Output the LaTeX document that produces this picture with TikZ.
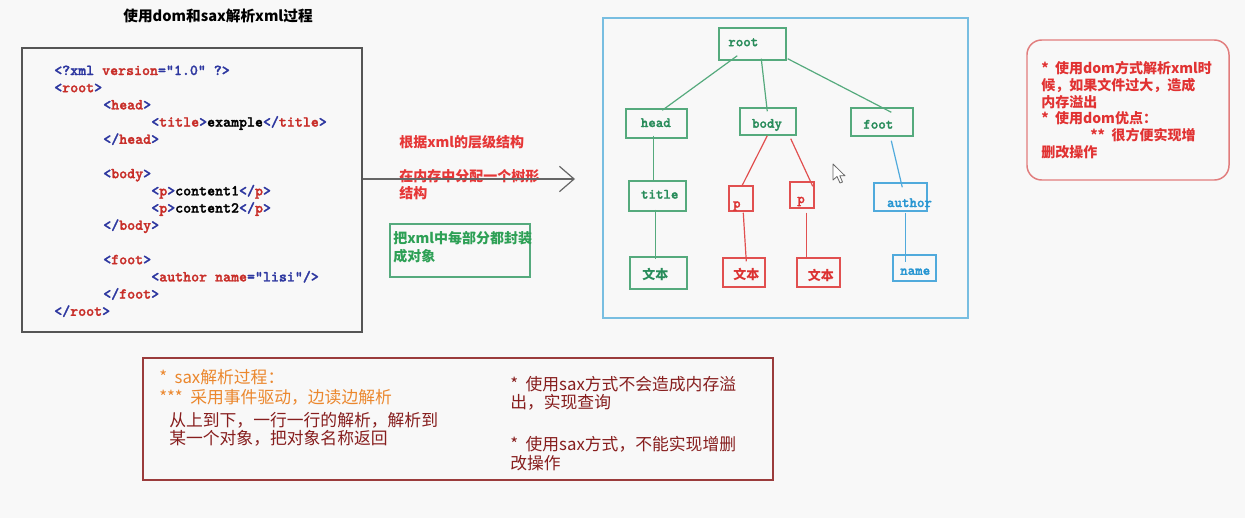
\documentclass[tikz,border=0pt]{standalone}
\usepackage{fontspec}
\usetikzlibrary{fit,calc,arrows.meta}
\newfontfamily\cjk{Noto Sans CJK SC}
\newfontfamily\codefont[FakeBold=1.6]{lmmonolt10-bold.otf}
\definecolor{bg}{RGB}{248,248,248}
\definecolor{xblue}{RGB}{45,55,160}
\definecolor{xred}{RGB}{200,45,40}
\definecolor{xmlgray}{RGB}{85,85,85}
\definecolor{tgreen}{RGB}{85,170,125}
\definecolor{tgreentxt}{RGB}{40,140,90}
\definecolor{tred}{RGB}{225,80,80}
\definecolor{tredtxt}{RGB}{220,50,50}
\definecolor{tblue}{RGB}{80,170,220}
\definecolor{tbluetxt}{RGB}{40,150,210}
\definecolor{bigblue}{RGB}{120,190,225}
\definecolor{midred}{RGB}{230,55,55}
\definecolor{midgreen}{RGB}{45,160,85}
\definecolor{pinkbox}{RGB}{225,125,125}
\definecolor{boxred}{RGB}{225,50,50}
\definecolor{brown}{RGB}{155,60,60}
\definecolor{orange}{RGB}{235,135,45}
\definecolor{darkred}{RGB}{135,30,30}
\newcommand\xb[1]{\textcolor{xblue}{#1}}
\newcommand\xr[1]{\textcolor{xred}{#1}}
\begin{document}
\begin{tikzpicture}[x=0.75pt,y=-0.75pt,
  code/.style={anchor=base west, inner sep=0, font=\codefont\fontsize{11.4}{13}\selectfont},
  tlab/.style={inner sep=0, font=\codefont\fontsize{10.7}{12}\selectfont},
  tcjk/.style={inner sep=0, font=\cjk\bfseries\fontsize{9.75}{11}\selectfont},
  tbox/.style={draw, line width=1.1pt, inner sep=0},
  tline/.style={line width=0.9pt},
  midtxt/.style={anchor=west, inner sep=0, font=\cjk\bfseries\fontsize{10.5}{12}\selectfont},
  bottxt/.style={anchor=west, inner sep=0, font=\cjk\fontsize{12.6}{14}\selectfont},
]
\fill[bg] (0,0) rectangle (1245,518);
\useasboundingbox (0,0) rectangle (1245,518);

% title
\node[inner sep=0, font=\cjk\bfseries\fontsize{11}{13}\selectfont] (ttl) at (218,16) {使用dom和sax解析xml过程};

% XML box
\node[draw=xmlgray, line width=1.5pt, fit={(22,48) (362,332)}, inner sep=0] (xmlbox) {};
\node[code] (c1) at (54,75) {\xb{<?xml} \xr{version}\xb{="1.0" ?>}};
\node[code] (c2) at (54,92.2) {\xb{<}\xr{root}\xb{>}};
\node[code] (c3) at (103,109.4) {\xb{<}\xr{head}\xb{>}};
\node[code] (c4) at (151,126.6) {\xb{<}\xr{title}\xb{>}example\xb{</}\xr{title}\xb{>}};
\node[code] (c5) at (103,143.8) {\xb{</}\xr{head}\xb{>}};
\node[code] (c6) at (103,178.2) {\xb{<}\xr{body}\xb{>}};
\node[code] (c7) at (151,195.4) {\xb{<}\xr{p}\xb{>}content1\xb{</}\xr{p}\xb{>}};
\node[code] (c8) at (151,212.6) {\xb{<}\xr{p}\xb{>}content2\xb{</}\xr{p}\xb{>}};
\node[code] (c9) at (103,229.8) {\xb{</}\xr{body}\xb{>}};
\node[code] (c10) at (103,264.2) {\xb{<}\xr{foot}\xb{>}};
\node[code] (c11) at (151,281.4) {\xb{<}\xr{author} \xr{name}\xb{="lisi"/>}};
\node[code] (c12) at (103,298.6) {\xb{</}\xr{foot}\xb{>}};
\node[code] (c13) at (54,315.8) {\xb{</}\xr{root}\xb{>}};

% middle arrow and texts
\node[midtxt, text=midred] (m1) at (399,141.7) {根据xml的层级结构};
\node[midtxt, text=midred] (m2) at (399,176.7) {在内存中分配一个树形};
\node[midtxt, text=midred] (m3) at (399,192.7) {结构};
\coordinate (tip) at (575,179);
\draw[xmlgray!90, line width=1.1pt, -{Straight Barb[length=11pt, width=19pt, line width=0.9pt]}] (xmlbox.east |- tip) -- (tip);
\node[draw=tgreen, line width=1.1pt, fit={(390,224) (530,277)}, inner sep=0] (gbox) {};
\node[midtxt, text=midgreen] (g1) at (393,238.5) {把xml中每部分都封装};
\node[midtxt, text=midgreen] (g2) at (393,256) {成对象};

% tree
\node[draw=bigblue, line width=1.5pt, fit={(603,18) (968,318)}, inner sep=0] (treebox) {};
\node[tbox, draw=tgreen, fit={(719,28) (786,60)}] (root) {};
\node[tbox, draw=tgreen, fit={(626,109) (687,138)}] (head) {};
\node[tbox, draw=tgreen, fit={(740,108) (796,135)}] (body) {};
\node[tbox, draw=tgreen, fit={(851,108) (913,136)}] (foot) {};
\node[tbox, draw=tgreen, fit={(629,181) (686,211)}] (title) {};
\node[tbox, draw=tred, fit={(729,186) (753,211)}] (p1) {};
\node[tbox, draw=tred, fit={(790,182) (814,208)}] (p2) {};
\node[tbox, draw=tblue, fit={(874,183) (927,211)}] (author) {};
\node[tbox, draw=tgreen, fit={(630,257) (687,289)}] (t1) {};
\node[tbox, draw=tred, fit={(723,258) (765,287)}] (t2) {};
\node[tbox, draw=tred, fit={(797,258) (840,287)}] (t3) {};
\node[tbox, draw=tblue, fit={(893,255) (936,281)}] (name) {};

\node[tlab, text=tgreentxt] (lroot) at (743.3,42.3) {root};
\node[tlab, text=tgreentxt] (lhead) at (655.8,122.7) {head};
\node[tlab, text=tgreentxt] (lbody) at (767,125) {body};
\node[tlab, text=tgreentxt] (lfoot) at (878.3,124.3) {foot};
\node[tlab, text=tgreentxt] (ltitle) at (659.7,194.3) {title};
\node[tlab, text=tredtxt] (lp1) at (736.8,206) {p};
\node[tlab, text=tredtxt] (lp2) at (801,201.5) {p};
\node[tlab, text=tbluetxt] (lauthor) at (909.5,202.7) {author};
\node[tcjk, text=tgreentxt] (lt1) at (655.3,274) {文本};
\node[tcjk, text=tredtxt] (lt2) at (746.3,274) {文本};
\node[tcjk, text=tredtxt] (lt3) at (820.8,275) {文本};
\node[tlab, text=tbluetxt] (lname) at (915.2,271.7) {name};

\draw[tline, tgreen] ($(root.south west)+(19,-5)$) -- ($(head.north west)+(37,2)$);
\draw[tline, tgreen] ($(root.south west)+(43,-2)$) -- ($(body.north west)+(28,4)$);
\draw[tline, tgreen] ($(root.south east)+(1,-2)$) -- ($(foot.north west)+(41,5)$);
\draw[tline, tgreen] ($(head.south west)+(28,-3)$) -- ($(title.north west)+(25,1)$);
\draw[tline, tgreen] ($(title.south west)+(27,-2)$) -- ($(t1.north west)+(26,3)$);
\draw[tline, tred] ($(body.south west)+(28,0)$) -- ($(p1.north west)+(14,0)$);
\draw[tline, tred] ($(body.south east)+(-6,3)$) -- ($(p2.north east)+(-2,5)$);
\draw[tline, tred] ($(p1.south west)+(15,1)$) -- ($(t2.north west)+(24,4)$);
\draw[tline, tred] ($(p2.south west)+(17,4)$) -- ($(t3.north west)+(10,0)$);
\draw[tline, tblue] ($(foot.south west)+(41,4)$) -- ($(author.north west)+(29,5)$);
\draw[tline, tblue] ($(author.south west)+(32,1)$) -- ($(name.north west)+(13,8)$);

% mouse cursor
\draw[fill=white, draw=black!60, line width=0.6pt, line join=round]
  (833,164) -- (833,180) -- (837,176.5) -- (840,183) -- (842.5,182) -- (839.8,175.8) -- (845,175.8) -- cycle;

% right note box
\node[draw=pinkbox, line width=1.1pt, rounded corners=11pt, fit={(1027,40) (1229,180)}, inner sep=0] (note) {};
\node[midtxt, text=boxred] (n1) at (1041,68.3) {*\ \ 使用dom方式解析xml时};
\node[midtxt, text=boxred] (n2) at (1041,85) {候，如果文件过大，造成};
\node[midtxt, text=boxred] (n3) at (1041,101.7) {内存溢出};
\node[midtxt, text=boxred] (n4) at (1041,118.3) {*\ \ 使用dom优点：};
\node[midtxt, text=boxred] (n5) at (1090,135) {**\ \ 很方便实现增};
\node[midtxt, text=boxred] (n6) at (1041,152.3) {删改操作};

% bottom box
\node[draw=brown, line width=1.1pt, fit={(143,358) (773,480)}, inner sep=0] (sax) {};
\node[bottxt, text=orange] (s1) at (159,377) {*\ \ sax解析过程：};
\node[bottxt, text=orange] (s2) at (159,397) {***\ \ 采用事件驱动，边读边解析};
\node[bottxt, text=darkred] (s3) at (169,420) {从上到下，一行一行的解析，解析到};
\node[bottxt, text=darkred] (s4) at (169,438) {某一个对象，把对象名称返回};
\node[bottxt, text=darkred] (s5) at (510,384) {*\ \ 使用sax方式不会造成内存溢};
\node[bottxt, text=darkred] (s6) at (510,402) {出，实现查询};
\node[bottxt, text=darkred] (s7) at (510,444) {*\ \ 使用sax方式，不能实现增删};
\node[bottxt, text=darkred] (s8) at (510,463) {改操作};
\end{tikzpicture}
\end{document}
